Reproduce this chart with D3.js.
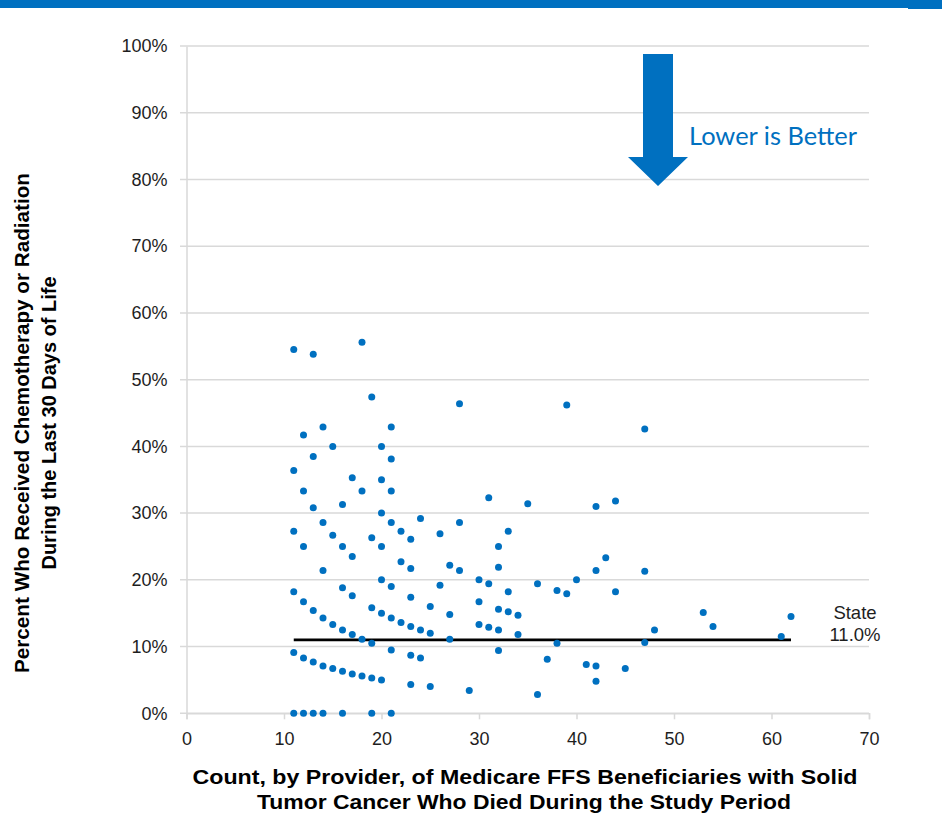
<!DOCTYPE html>
<html>
<head>
<meta charset="utf-8">
<script src="https://cdn.jsdelivr.net/npm/d3@7"></script>
<style>
  body { margin: 0; background: #fff; }
  svg { display: block; }
</style>
</head>
<body>
<div id="chart"></div>
<script>
// providers: count of beneficiaries (x) and percent treated (y)
const counts = [
  11, 11, 11, 11, 11, 11,
  12, 12, 12, 12, 12, 12,
  13, 13, 13, 13, 13, 13,
  14, 14, 14, 14, 14, 14,
  15, 15, 15, 15,
  16, 16, 16, 16, 16, 16,
  17, 17, 17, 17, 17,
  18, 18, 18, 18,
  19, 19, 19, 19, 19, 19,
  20, 20, 20, 20, 20, 20, 20,
  21, 21, 21, 21, 21, 21, 21, 21,
  22, 22, 22,
  23, 23, 23, 23, 23, 23,
  24, 24, 24,
  25, 25, 25,
  26, 26,
  27, 27, 27,
  28, 28, 28,
  29,
  30, 30, 30,
  31, 31, 31,
  32, 32, 32, 32, 32,
  33, 33, 33,
  34, 34,
  35,
  36, 36,
  37,
  38, 38,
  39, 39,
  40,
  41,
  42, 42, 42, 42,
  43,
  44, 44,
  45,
  47, 47, 47,
  48,
  53,
  54,
  61,
  62
];
const percents = [
  54.5, 36.4, 27.3, 18.2, 9.1, 0,
  41.7, 33.3, 25.0, 16.7, 8.3, 0,
  53.8, 38.5, 30.8, 15.4, 7.7, 0,
  42.9, 28.6, 21.4, 14.3, 7.1, 0,
  40.0, 26.7, 13.3, 6.7,
  31.3, 25.0, 18.8, 12.5, 6.3, 0,
  35.3, 23.5, 17.6, 11.8, 5.9,
  55.6, 33.3, 11.1, 5.6,
  47.4, 26.3, 15.8, 10.5, 5.3, 0,
  40.0, 35.0, 30.0, 25.0, 20.0, 15.0, 5.0,
  42.9, 38.1, 33.3, 28.6, 19.0, 14.3, 9.5, 0,
  27.3, 22.7, 13.6,
  26.1, 21.7, 17.4, 13.0, 8.7, 4.3,
  29.2, 12.5, 8.3,
  16.0, 12.0, 4.0,
  26.9, 19.2,
  22.2, 14.8, 11.1,
  46.4, 28.6, 21.4,
  3.4,
  20.0, 16.7, 13.3,
  32.3, 19.4, 12.9,
  25.0, 21.9, 15.6, 12.5, 9.4,
  27.3, 18.2, 15.2,
  14.7, 11.8,
  31.4,
  19.4, 2.8,
  8.1,
  18.4, 10.5,
  46.2, 17.9,
  20.0,
  7.3,
  31.0, 21.4, 7.1, 4.8,
  23.3,
  31.8, 18.2,
  6.7,
  42.6, 21.3, 10.6,
  12.5,
  15.1,
  13.0,
  11.5,
  14.5
];
const stateRate = 11.0;
const stateRange = [11, 62];
const xTicks = [0, 10, 20, 30, 40, 50, 60, 70];
const yTicks = [0, 10, 20, 30, 40, 50, 60, 70, 80, 90, 100];

const w = 942;
const h = 833;
const blue = "#0070c0";
const grid = "#d9d9d9";

const svg = d3.select("#chart")
              .append("svg")
              .attr("width", w)
              .attr("height", h);

// blue band at the top of the slide
svg.append("rect").attr("x", 0).attr("y", 0).attr("width", w).attr("height", 8).attr("fill", blue);
svg.append("rect").attr("x", 908).attr("y", 0).attr("width", w - 908).attr("height", 9).attr("fill", blue);

const xScale = d3.scaleLinear()
                 .domain([0, 70])
                 .range([186.5, 869]);

const yScale = d3.scaleLinear()
                 .domain([0, 100])
                 .range([713.3, 46]);

// horizontal gridlines
svg.append("g")
   .selectAll("line")
   .data(yTicks)
   .enter()
   .append("line")
   .attr("x1", 180)
   .attr("x2", xScale(70))
   .attr("y1", d => yScale(d))
   .attr("y2", d => yScale(d))
   .attr("stroke", grid)
   .attr("stroke-width", 1.5);

// y axis
const yAxis = d3.axisLeft(yScale)
                .tickValues(yTicks)
                .tickFormat(d => d + "%")
                .tickSize(0)
                .tickPadding(19);

const gy = svg.append("g")
   .attr("transform", "translate(" + xScale(0) + ",0)")
   .call(yAxis);
gy.select(".domain").attr("stroke", grid).attr("stroke-width", 1.5);
gy.selectAll("text")
  .attr("font-family", "Liberation Sans, Arial, sans-serif")
  .attr("font-size", 18)
  .attr("fill", "#1e1e1e");

// x axis
const xAxis = d3.axisBottom(xScale)
                .tickValues(xTicks)
                .tickSize(6)
                .tickPadding(13);

const gx = svg.append("g")
   .attr("transform", "translate(0," + yScale(0) + ")")
   .call(xAxis);
gx.select(".domain").attr("stroke", grid).attr("stroke-width", 1.5);
gx.selectAll("line").attr("stroke", grid).attr("stroke-width", 1.5);
gx.selectAll("text")
  .attr("font-family", "Liberation Sans, Arial, sans-serif")
  .attr("font-size", 18)
  .attr("fill", "#1e1e1e");

// state average line
svg.append("line")
   .attr("x1", xScale(stateRange[0]))
   .attr("x2", xScale(stateRange[1]))
   .attr("y1", yScale(stateRate))
   .attr("y2", yScale(stateRate))
   .attr("stroke", "#000")
   .attr("stroke-width", 2.8);

// provider points
svg.append("g")
   .selectAll("circle")
   .data(counts.map((c, i) => [c, percents[i]]))
   .enter()
   .append("circle")
   .attr("cx", d => xScale(d[0]))
   .attr("cy", d => yScale(d[1]))
   .attr("r", 3.5)
   .attr("fill", blue);

// state label
svg.append("text")
   .attr("x", 855)
   .attr("y", 619)
   .attr("text-anchor", "middle")
   .attr("font-family", "Liberation Sans, Arial, sans-serif")
   .attr("font-size", 18.5)
   .attr("fill", "#1e1e1e")
   .text("State");
svg.append("text")
   .attr("x", 855)
   .attr("y", 641)
   .attr("text-anchor", "middle")
   .attr("font-family", "Liberation Sans, Arial, sans-serif")
   .attr("font-size", 18.5)
   .attr("fill", "#1e1e1e")
   .text(stateRate.toFixed(1) + "%");

// "lower is better" arrow
svg.append("path")
   .attr("d", "M643,54 L673,54 L673,157 L688,157 L658,186 L628,157 L643,157 Z")
   .attr("fill", blue);
svg.append("text")
   .attr("x", 689)
   .attr("y", 145)
   .attr("font-family", "Lato, Carlito, sans-serif")
   .attr("font-size", 25)
   .attr("fill", blue)
   .attr("textLength", 168)
   .attr("lengthAdjust", "spacingAndGlyphs")
   .text("Lower is Better");

// axis titles
const title = svg.append("g")
   .attr("font-family", "Liberation Sans, Arial, sans-serif")
   .attr("font-weight", "bold")
   .attr("font-size", 21)
   .attr("fill", "#000")
   .attr("text-anchor", "middle");

title.append("text")
   .attr("x", 525)
   .attr("y", 784)
   .attr("textLength", 665)
   .attr("lengthAdjust", "spacingAndGlyphs")
   .text("Count, by Provider, of Medicare FFS Beneficiaries with Solid");
title.append("text")
   .attr("x", 524)
   .attr("y", 809)
   .attr("textLength", 534)
   .attr("lengthAdjust", "spacingAndGlyphs")
   .text("Tumor Cancer Who Died During the Study Period");

title.append("text")
   .attr("transform", "translate(29,423) rotate(-90)")
   .attr("textLength", 500)
   .attr("lengthAdjust", "spacingAndGlyphs")
   .text("Percent Who Received Chemotherapy or Radiation");
title.append("text")
   .attr("transform", "translate(56,423) rotate(-90)")
   .attr("textLength", 293)
   .attr("lengthAdjust", "spacingAndGlyphs")
   .text("During the Last 30 Days of Life");
</script>
</body>
</html>
